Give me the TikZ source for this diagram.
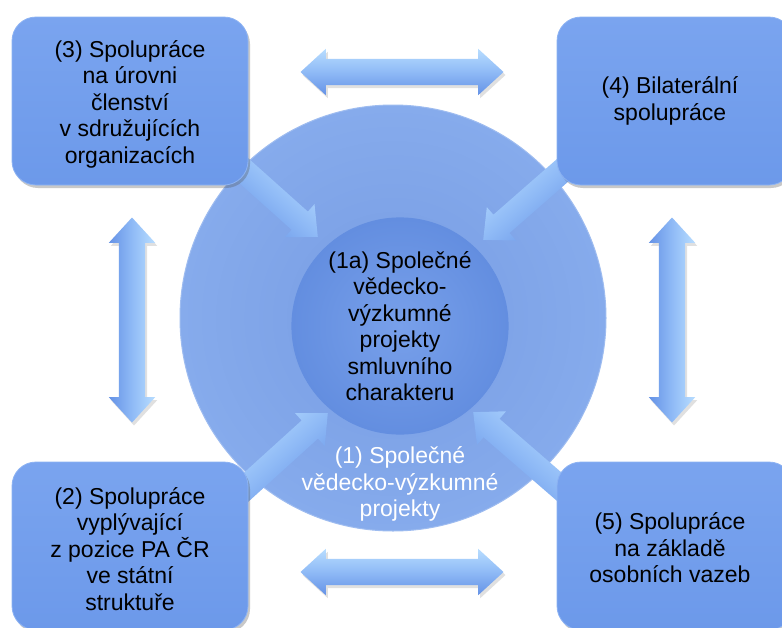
\documentclass[tikz,border=0pt]{standalone}
\usepackage{fontspec}
\setmainfont{Liberation Sans}
\usetikzlibrary{shapes.arrows,shadows,shapes.geometric}
\definecolor{boxblue}{HTML}{6C99EA}
\definecolor{boxtop}{HTML}{7AA4EF}
\definecolor{boxedge}{HTML}{8DB3F3}
\definecolor{bigin}{HTML}{779CE3}
\definecolor{bigout}{HTML}{86ABEC}
\definecolor{innin}{HTML}{78A0EA}
\definecolor{innout}{HTML}{638EE0}
\definecolor{arrlight}{HTML}{B8DDFF}
\definecolor{arrmid}{HTML}{8FBAF6}
\definecolor{arrdark}{HTML}{6592E6}
\newcommand{\boxfont}{\fontsize{23}{26.5}\selectfont}
\begin{document}
\begin{tikzpicture}[x=1pt,y=-1pt,
  box/.style={rectangle, rounded corners=24pt, minimum width=236pt, minimum height=168pt,
    inner sep=0pt, top color=boxtop, bottom color=boxblue, draw=boxedge, line width=0.8pt,
    drop shadow={shadow xshift=2pt,shadow yshift=-3pt,opacity=0.3,fill=black!70},
    align=center, font=\boxfont},
  boxtext/.style={align=center, font=\boxfont, inner sep=0pt},
  dblarrow/.style={double arrow, draw=none, double arrow head extend=10pt,
    double arrow tip angle=85, inner xsep=0pt, inner ysep=13pt, minimum width=1pt,
    top color=arrlight, bottom color=arrdark, middle color=arrmid,
    drop shadow={shadow xshift=2pt,shadow yshift=-3pt,opacity=0.2,fill=black!60}},
  sglarrow/.style={single arrow, draw=none, single arrow head extend=10pt,
    single arrow tip angle=85, inner xsep=0pt, inner ysep=12pt, minimum width=1pt,
    top color=arrlight, bottom color=arrdark, middle color=arrmid, anchor=tip}
]
\clip (0,0) rectangle (782,627);
\fill[white] (0,0) rectangle (782,627);

% big circle
\node[circle, minimum size=426pt, inner sep=0pt, draw=bigout!80!white, line width=1pt,
      inner color=bigin, outer color=bigout] (big) at (393,318) {};
% inner circle
\node[circle, minimum size=216pt, inner sep=0pt, draw=innout, line width=1.2pt,
      inner color=innin, outer color=innout] (inner) at (400,326) {};

\node[boxtext] (t1a) at (400,326) {(1a) Společné\\vědecko-\\výzkumné\\projekty\\smluvního\\charakteru};
\node[boxtext, text=white] (t1) at (400,484) {(1) Společné\\vědecko-výzkumné\\projekty};

% diagonal arrows
\node[sglarrow, minimum height=120pt, rotate=-41.8, shading angle=-41.8] (d3) at (318,237) {};
\node[sglarrow, minimum height=125pt, rotate=-138.8, shading angle=41.2] (d4) at (483,240) {};
\node[sglarrow, minimum height=130pt, rotate=42.2, shading angle=42.2] (d2) at (328,413) {};
\node[sglarrow, minimum height=135pt, rotate=139.1, shading angle=-40.9] (d5) at (473,412) {};

% boxes
\node[box] (b3) at (130,101) {};
\node[box] (b4) at (675,101) {};
\node[box] (b2) at (130,546) {};
\node[box] (b5) at (675,546) {};

\node[boxtext] (t3) at (130,104) {(3) Spolupráce\\na úrovni\\členství\\v sdružujících\\organizacích};
\node[boxtext] (t4) at (670,101) {(4) Bilaterální\\spolupráce};
\node[boxtext] (t2) at (130,549) {(2) Spolupráce\\vyplývající\\z pozice PA ČR\\ve státní\\struktuře};
\node[boxtext] (t5) at (670,548) {(5) Spolupráce\\na základě\\osobních vazeb};

% double arrows
\node[dblarrow, minimum height=203pt] (htop) at (402,72) {};
\node[dblarrow, minimum height=203pt] (hbot) at (402,572) {};
\node[dblarrow, minimum height=205pt, rotate=90, shading angle=-90] (vl) at (132,320) {};
\node[dblarrow, minimum height=205pt, rotate=90, shading angle=-90] (vr) at (672,320) {};
\end{tikzpicture}
\end{document}
